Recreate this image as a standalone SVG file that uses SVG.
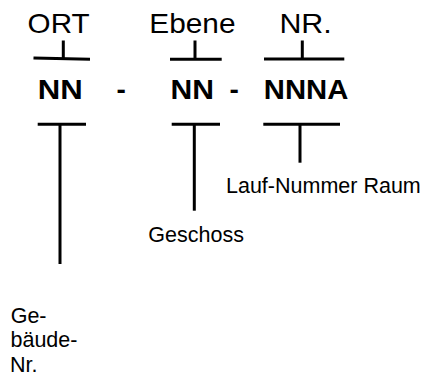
<svg xmlns="http://www.w3.org/2000/svg" width="422" height="376" viewBox="0 0 422 376">
<style>
.hd{font-family:"Liberation Sans",Arial,sans-serif;font-size:28px;fill:#000}
.code{font-family:"Liberation Sans",Arial,sans-serif;font-size:28px;font-weight:bold;fill:#000}
.lbl{font-family:"Liberation Sans",Arial,sans-serif;font-size:21.5px;fill:#000}
.ln{stroke:#000;stroke-width:3;fill:none;stroke-linecap:butt}
</style>
<rect width="422" height="376" fill="#fff"/>
<g id="ort">
<text class="hd" x="27.6" y="33.3" textLength="62" lengthAdjust="spacingAndGlyphs">ORT</text>
<text class="code" x="37.7" y="99.3" textLength="45" lengthAdjust="spacingAndGlyphs">NN</text>
</g>
<text class="code" x="116.4" y="99.3">-</text>
<g id="ebene">
<text class="hd" x="149.3" y="33.3" textLength="86.2" lengthAdjust="spacingAndGlyphs">Ebene</text>
<text class="code" x="170.5" y="99.3" textLength="43.5" lengthAdjust="spacingAndGlyphs">NN</text>
</g>
<text class="code" x="229.4" y="99.3">-</text>
<g id="nr">
<text class="hd" x="279.4" y="33.3" textLength="52.4" lengthAdjust="spacingAndGlyphs">NR.</text>
<text class="code" x="263.8" y="99.3" textLength="84.5" lengthAdjust="spacingAndGlyphs">NNNA</text>
</g>
<g id="lauf-nummer">
<text class="lbl" x="226" y="193.3">Lauf-Nummer Raum</text>
</g>
<g id="geschoss">
<text class="lbl" x="148.3" y="241.7">Geschoss</text>
</g>
<g id="gebaeude-nr">
<text class="lbl" x="10.7" y="322.7">Ge-</text>
<text class="lbl" x="10.5" y="347.3">bäude-</text>
<text class="lbl" x="10" y="371.7">Nr.</text>
</g>
<g id="connectors">
<line class="ln" x1="63.3" y1="40.5" x2="63.3" y2="58.5"/>
<line class="ln" x1="33.5" y1="58" x2="90" y2="59.2"/>
<line class="ln" x1="195" y1="40.5" x2="195" y2="59"/>
<line class="ln" x1="170" y1="59.3" x2="221.7" y2="59.3"/>
<line class="ln" x1="302.3" y1="40.5" x2="302.3" y2="59"/>
<line class="ln" x1="264" y1="59" x2="344.3" y2="59"/>
<line class="ln" x1="37.7" y1="124.2" x2="86" y2="124.2"/>
<line class="ln" x1="60" y1="124.2" x2="60" y2="264"/>
<line class="ln" x1="171.7" y1="124.2" x2="220" y2="124.2"/>
<line class="ln" x1="194.3" y1="124.2" x2="194.3" y2="210.7"/>
<line class="ln" x1="263.3" y1="124.2" x2="340" y2="124.2"/>
<line class="ln" x1="300" y1="124.2" x2="300" y2="162.7"/>
</g>
</svg>
